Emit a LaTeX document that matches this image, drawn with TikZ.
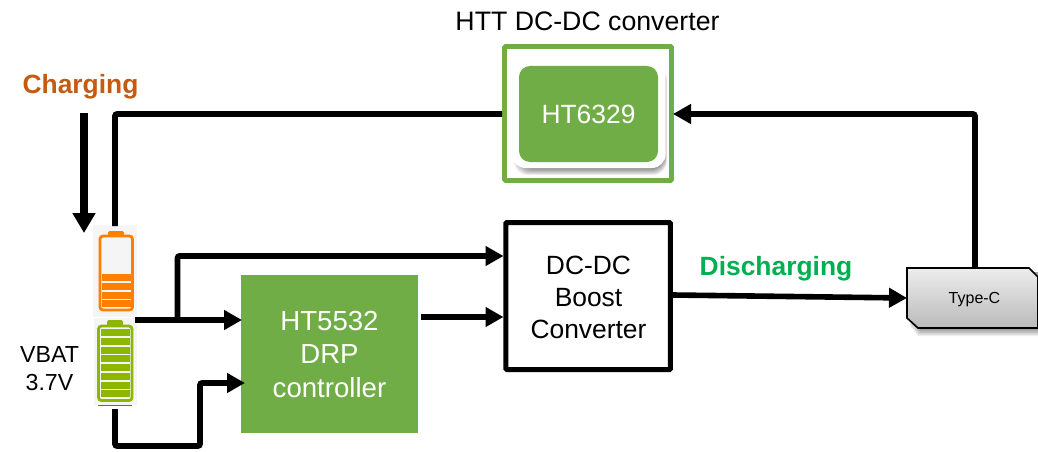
\documentclass[tikz,border=0pt]{standalone}
\usepackage{fontspec}
\setmainfont{Liberation Sans}
\usetikzlibrary{arrows.meta,calc}
\definecolor{hgreen}{HTML}{70AD47}
\definecolor{chargeor}{HTML}{C55A11}
\definecolor{dischg}{HTML}{00B050}
\definecolor{batto}{HTML}{FF8000}
\definecolor{battg}{HTML}{8DB600}
\newcommand{\fs}[1]{\fontsize{#1}{#1}\selectfont}
\tikzset{
  x=1pt,y=-1pt,
  conn/.style={draw=black,line width=5.6pt,rounded corners=2pt},
  arr/.style={conn,-{Triangle[length=18pt,width=19pt]}},
  boxlab/.style={font=\fs{26.4},align=center,inner sep=0pt,text depth=0pt},
  panel/.style={fill=black!4,draw=none},
  orangebar/.style={fill=batto,draw=none},
  greenbar/.style={fill=battg,draw=none},
}
\begin{document}
\begin{tikzpicture}
\useasboundingbox (0,0) rectangle (1038,452);
\fill[white] (0,0) rectangle (1038,452);
% batteries
\fill[panel] (93,225) rectangle (137,317);
\fill[panel] (94,318) rectangle (137,405);
\draw[black!60,line width=.8pt] (98,405.5) -- (132,405.5);
\fill[batto,rounded corners=1.5pt] (108,231) rectangle (124,237);
\draw[batto,line width=2.8pt,fill=black!4,rounded corners=3pt] (100,236) rectangle (132.5,310);
\foreach \yy in {274,283,291.5,300}{\fill[orangebar] (102,\yy) rectangle (130.5,\yy+7.2);}
\fill[battg,rounded corners=1.5pt] (107,320) rectangle (123,326);
\draw[battg,line width=2.8pt,fill=black!4,rounded corners=3pt] (98.5,326) rectangle (132,400.5);
\foreach \yy in {329,338,346.5,355,364,372.5,381.5,390}{\fill[greenbar] (101,\yy) rectangle (130,\yy+7);}
% nodes
\node[draw=hgreen,line width=4.6pt,rounded corners=1pt,minimum width=167pt,minimum height=134pt,inner sep=0pt] (htt) at (588,113.5) {};
\foreach \d in {0,1,...,6}{
  \fill[black,opacity=.07,rounded corners=14pt] (514+\d,66+\d*.3) rectangle (667-\d*.4,175-\d);
}
\node[fill=white,rounded corners=14pt,minimum width=154pt,minimum height=110pt,inner sep=0pt] (httw) at (588.7,113) {};
\node[fill=hgreen,rounded corners=11pt,minimum width=139pt,minimum height=96pt,text=white,boxlab] (ht6329) at (588.5,114) {HT6329};
\node[draw=black,line width=5pt,rounded corners=1pt,minimum width=164.5pt,minimum height=147pt] (boost) at (588.2,296) {};
\node[boxlab] (boosttext) at (588.5,297) {DC-DC\\[5.6pt]Boost\\[5.6pt]Converter};
\node[fill=hgreen,minimum width=177pt,minimum height=158pt,text=white,boxlab,font=\fs{27.6}] (drp) at (329.5,354) {HT5532\\[6pt]DRP\\[6pt]controller};
\node[font=\fs{26.7},inner sep=0pt] (title) at (587.5,21) {HTT DC-DC converter};
\node[font=\fs{26.4}\bfseries,text=chargeor,inner sep=0pt] (charging) at (80.5,87) {Charging};
\node[font=\fs{26.4}\bfseries,text=dischg,inner sep=0pt] (discharging) at (776,269) {Discharging};
\node[font=\fs{23.2},align=center,inner sep=0pt] (vbat) at (49.5,369) {VBAT\\[4.8pt]3.7V};
% Type-C
\foreach \d in {0,1,...,6}{
  \fill[black,opacity=.06] (910+\d*.5,272) -- (1038,272) -- (1038,336-\d) -- (918+\d*.5,336-\d) -- (910+\d*.5,326-\d) -- cycle;
}
\draw[black,line width=1.6pt,top color=black!7,bottom color=black!27] (907,268) -- (1029,268) -- (1038,277) -- (1038,328) -- (918,328) -- (907,318) -- cycle;
\node[font=\fs{16},inner sep=0pt] (typec) at (974.5,300) {Type-C};
% connector anchors
\coordinate (battTop) at (115,226);
\coordinate (battMid) at (135,320);
\coordinate (branch) at (177.5,320);
\coordinate (battBot) at (115,409);
\coordinate (chgStart) at (84,113);
\coordinate (chgEnd) at (84,233);
\coordinate (drpIn) at (242,320);
\coordinate (drpIn2) at (245,383);
\coordinate (drpOut) at (421,317);
\coordinate (bIn1) at (503.5,256);
\coordinate (bIn2) at (503.5,317);
\coordinate (bOut) at (673,295);
\coordinate (tcIn) at (907,298);
\coordinate (tcTop) at (975,268);
\coordinate (httIn) at (673,114);
\coordinate (httOut) at (502,114);
\coordinate (lowA) at (115,446);
\coordinate (lowB) at (200,446);
\coordinate (lowC) at (200,383);
% connectors
\draw[conn] (battTop) |- (httOut);
\draw[conn,line width=8pt,-{Triangle[length=20pt,width=22pt]}] (chgStart) -- (chgEnd);
\draw[arr,rounded corners=0pt] (battMid) -- (drpIn);
\draw[arr] (branch) |- (bIn1);
\draw[arr] (battBot) -- (lowA) -- (lowB) -- (lowC) -- (drpIn2);
\draw[arr,rounded corners=0pt] (drpOut) -- (bIn2);
\draw[arr,rounded corners=0pt] (bOut) -- (tcIn);
\draw[arr] (tcTop) |- (httIn);
\end{tikzpicture}
\end{document}
